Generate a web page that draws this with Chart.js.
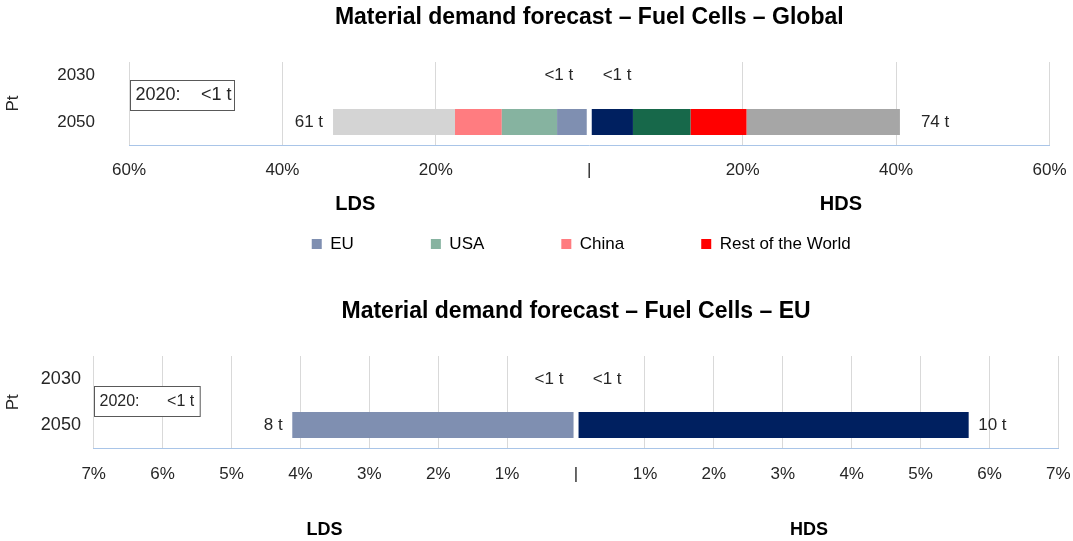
<!DOCTYPE html>
<html>
<head>
<meta charset="utf-8">
<script src="https://cdn.jsdelivr.net/npm/chart.js@4.4.1/dist/chart.umd.min.js"></script>
<style>
  html, body { margin: 0; padding: 0; background: #ffffff; }
  #wrap { position: relative; width: 1073px; height: 541px; overflow: hidden; background: #ffffff; }
  canvas { position: absolute; left: 0; }
</style>
</head>
<body>
<div id="wrap">
  <canvas id="cGlobal" width="1073" height="270" style="top:0px"></canvas>
  <canvas id="cEU" width="1073" height="271" style="top:270px"></canvas>
</div>
<script>
// ---------------- DATA ----------------
const years = ['2030', '2050'];
const regions = ['EU', 'USA', 'China', 'Rest of the World'];

// Global chart: share (%) of demand, per year [2030, 2050]
const globalLDS_EU    = [0, 4.2];
const globalLDS_USA   = [0, 7.2];
const globalLDS_China = [0, 6.1];
const globalLDS_RoW   = [0, 15.9];
const globalHDS_EU    = [0, 5.7];
const globalHDS_USA   = [0, 7.5];
const globalHDS_China = [0, 7.3];
const globalHDS_RoW   = [0, 20.0];
const globalLDS_totals = ['<1 t', '61 t'];
const globalHDS_totals = ['<1 t', '74 t'];
const globalAxisMax = 60;
const globalTickStep = 20;

// EU chart: share (%) of demand, per year [2030, 2050]
const euLDS_EU = [0, 4.12];
const euHDS_EU = [0, 5.70];
const euLDS_totals = ['<1 t', '8 t'];
const euHDS_totals = ['<1 t', '10 t'];
const euAxisMax = 7;
const euTickStep = 1;

// 2020 note
const note2020Label = '2020:';
const note2020Global = '<1 t';
const note2020EU = '<1 t';

// ---------------- STYLE ----------------
const FONT = "'Liberation Sans', Arial, Helvetica, sans-serif";
const TEXT = '#262626';
Chart.defaults.font.family = FONT;
Chart.defaults.color = TEXT;

const COL = {
  ldsEU: '#7f8fb1', ldsUSA: '#86b3a0', ldsChina: '#ff7c80', ldsRoW: '#d4d4d4',
  hdsEU: '#002060', hdsUSA: '#17684a', hdsChina: '#ff0000', hdsRoW: '#a6a6a6'
};
const legendColors = ['#7f8fb1', '#86b3a0', '#ff7c80', '#ff0000'];

// ---------------- PLUGINS ----------------
const totalsPlugin = {
  id: 'totals',
  afterDatasetsDraw(chart, args, o) {
    const { ctx, scales: { x, y } } = chart;
    ctx.save();
    ctx.font = o.size + 'px ' + FONT;
    ctx.fillStyle = TEXT;
    ctx.textBaseline = 'middle';
    const sideSum = (side, i) => chart.data.datasets
      .filter(d => d.side === side)
      .reduce((a, d) => a + Math.abs(d.data[i] || 0), 0);
    const rowY = i => y.getPixelForValue(Number(chart.data.labels[i]));
    o.left.forEach((txt, i) => {
      const s = sideSum('L', i);
      ctx.textAlign = 'right';
      ctx.fillText(txt, x.getPixelForValue(-s) - (s > 0 ? o.barPadL : o.zeroPadL), rowY(i));
    });
    o.right.forEach((txt, i) => {
      const s = sideSum('R', i);
      ctx.textAlign = 'left';
      ctx.fillText(txt, x.getPixelForValue(s) + (s > 0 ? o.barPadR : o.zeroPadR), rowY(i));
    });
    ctx.restore();
  }
};

const sideTitlesPlugin = {
  id: 'sideTitles',
  afterDraw(chart, args, o) {
    const { ctx, scales: { x } } = chart;
    ctx.save();
    ctx.font = 'bold ' + o.size + 'px ' + FONT;
    ctx.fillStyle = '#000000';
    ctx.textAlign = 'center';
    ctx.textBaseline = 'middle';
    ctx.fillText(o.leftText, x.getPixelForValue(o.leftAt), o.y);
    ctx.fillText(o.rightText, x.getPixelForValue(o.rightAt), o.y);
    ctx.restore();
  }
};

const notePlugin = {
  id: 'note',
  afterDraw(chart, args, o) {
    const { ctx, chartArea: a } = chart;
    const x0 = Math.round(a.left + o.dx) + 0.5;
    const yc = (a.top + a.bottom) / 2 + o.dy;
    const y0 = Math.round(yc - o.h / 2) + 0.5;
    ctx.save();
    ctx.fillStyle = '#ffffff';
    ctx.fillRect(x0, y0, o.w, o.h);
    ctx.strokeStyle = '#595959';
    ctx.lineWidth = 1;
    ctx.strokeRect(x0, y0, o.w, o.h);
    ctx.font = o.size + 'px ' + FONT;
    ctx.fillStyle = TEXT;
    ctx.textBaseline = 'middle';
    ctx.textAlign = 'left';
    ctx.fillText(o.label, x0 + o.padL, y0 + o.h / 2);
    ctx.textAlign = 'right';
    ctx.fillText(o.value, x0 + o.w - o.padR, y0 + o.h / 2);
    ctx.restore();
  }
};

// nudges the legend row horizontally (the reference legend is not centred on the plot)
const legendShiftPlugin = {
  id: 'legendShift',
  afterLayout(chart, args, o) {
    if (chart.legend && o && o.dx) {
      chart.legend.left += o.dx;
      chart.legend.right += o.dx;
    }
  }
};

// ---------------- BUILDER ----------------
function buildChart(id, c) {
  const datasets = [];
  c.lds.forEach((s, i) => datasets.push({
    label: s.label + ' (LDS)', side: 'L',
    data: s.values.map(v => -v),
    backgroundColor: s.color, borderColor: '#ffffff',
    borderWidth: i === 0 ? { top: 0, right: 2, bottom: 0, left: 0 } : 0,
    borderSkipped: false, barThickness: 26, inflateAmount: 0
  }));
  c.hds.forEach((s, i) => datasets.push({
    label: s.label + ' (HDS)', side: 'R',
    data: s.values.slice(),
    backgroundColor: s.color, borderColor: '#ffffff',
    borderWidth: i === 0 ? { top: 0, right: 0, bottom: 0, left: 2 } : 0,
    borderSkipped: false, barThickness: 26, inflateAmount: 0
  }));

  return new Chart(document.getElementById(id), {
    type: 'bar',
    data: { labels: years, datasets },
    plugins: [totalsPlugin, sideTitlesPlugin, notePlugin, legendShiftPlugin],
    options: {
      indexAxis: 'y',
      responsive: false,
      animation: false,
      devicePixelRatio: 1,
      layout: { padding: c.padding },
      scales: {
        x: {
          type: 'linear', stacked: true,
          min: -c.axisMax, max: c.axisMax,
          afterFit: s => { s.height = c.xHeight; s.paddingLeft = 0; s.paddingRight = 0; },
          ticks: {
            stepSize: c.tickStep, autoSkip: false, maxRotation: 0, mirror: c.xMirror,
            padding: c.xTickPad, color: TEXT, font: { size: 17 },
            callback: v => v === 0 ? '|' : Math.abs(v) + '%'
          },
          grid: {
            drawTicks: false, lineWidth: 1,
            color: ctx => (ctx.tick && ctx.tick.value === 0) ? 'rgba(0,0,0,0)' : '#d9d9d9'
          },
          border: { display: true, color: '#a9c5e8', width: 1 }
        },
        y: {
          type: 'linear', stacked: true, position: 'left', reverse: true, offset: false,
          min: c.yMin, max: c.yMax,
          afterBuildTicks: s => { s.ticks = years.map(v => ({ value: Number(v) })); },
          afterFit: s => { s.width = c.yWidth; s.paddingTop = 0; s.paddingBottom = 0; },
          grid: { display: false, drawTicks: false, offset: false },
          border: { display: false },
          ticks: { padding: c.yTickPad, color: TEXT, font: { size: c.yFont }, autoSkip: false,
                   callback: v => String(v) },
          title: { display: true, text: 'Pt', color: TEXT, font: { size: 17 }, padding: { top: 3.6, bottom: 0 } }
        }
      },
      plugins: {
        title: {
          display: true, text: c.title, color: '#000000', fullSize: false,
          font: { size: 23, weight: 'bold' }, padding: c.titlePad
        },
        legend: c.legend ? {
          display: true, position: 'bottom', fullSize: false,
          labels: {
            boxWidth: 10, boxHeight: 10, padding: 77, color: TEXT, font: { size: 17 },
            generateLabels: () => regions.map((r, i) => ({
              text: r, fillStyle: legendColors[i], strokeStyle: legendColors[i],
              lineWidth: 0, hidden: false, datasetIndex: i
            }))
          }
        } : { display: false },
        tooltip: { enabled: false },
        totals: c.totals,
        sideTitles: c.sideTitles,
        note: c.note,
        legendShift: { dx: c.legendDx || 0 }
      }
    }
  });
}

buildChart('cGlobal', {
  title: 'Material demand forecast – Fuel Cells – Global',
  axisMax: globalAxisMax, tickStep: globalTickStep,
  lds: [
    { label: 'EU', values: globalLDS_EU, color: COL.ldsEU },
    { label: 'USA', values: globalLDS_USA, color: COL.ldsUSA },
    { label: 'China', values: globalLDS_China, color: COL.ldsChina },
    { label: 'Rest of the World', values: globalLDS_RoW, color: COL.ldsRoW }
  ],
  hds: [
    { label: 'EU', values: globalHDS_EU, color: COL.hdsEU },
    { label: 'USA', values: globalHDS_USA, color: COL.hdsUSA },
    { label: 'China', values: globalHDS_China, color: COL.hdsChina },
    { label: 'Rest of the World', values: globalHDS_RoW, color: COL.hdsRoW }
  ],
  padding: { left: 0, right: 23.5, top: 0, bottom: 7.5 },
  titlePad: { top: 3.7, bottom: 30.7 },
  yMin: 2024.47, yMax: 2059.79,
  xHeight: 13.5, xTickPad: -35.2, xMirror: true,
  yWidth: 129, yTickPad: 34, yFont: 17,
  legend: true, legendDx: -8,
  totals: { left: globalLDS_totals, right: globalHDS_totals, size: 17,
            zeroPadL: 16, zeroPadR: 13.4, barPadL: 10, barPadR: 21 },
  sideTitles: { leftText: 'LDS', rightText: 'HDS', leftAt: -30.5, rightAt: 32.8, y: 204, size: 20 },
  note: { label: note2020Label, value: note2020Global, dx: 1, dy: -8.5, w: 104, h: 30, size: 18, padL: 5, padR: 3 }
});

buildChart('cEU', {
  title: 'Material demand forecast – Fuel Cells – EU',
  axisMax: euAxisMax, tickStep: euTickStep,
  lds: [ { label: 'EU', values: euLDS_EU, color: COL.ldsEU } ],
  hds: [ { label: 'EU', values: euHDS_EU, color: COL.hdsEU } ],
  padding: { left: 0, right: 14.6, top: 0, bottom: 0 },
  titlePad: { top: 27.7, bottom: 30.7 },
  yMin: 2020, yMax: 2060.2,
  xHeight: 92.5, xTickPad: 15.3, xMirror: false,
  yWidth: 93.7, yTickPad: 12.8, yFont: 18,
  legend: false,
  totals: { left: euLDS_totals, right: euHDS_totals, size: 17,
            zeroPadL: 12.7, zeroPadR: 16.7, barPadL: 9.4, barPadR: 9.4 },
  sideTitles: { leftText: 'LDS', rightText: 'HDS', leftAt: -3.65, rightAt: 3.38, y: 260.5, size: 18 },
  note: { label: note2020Label, value: note2020EU, dx: 0.3, dy: -1.25, w: 105.7, h: 30, size: 16, padL: 5, padR: 6 }
});
</script>
</body>
</html>
